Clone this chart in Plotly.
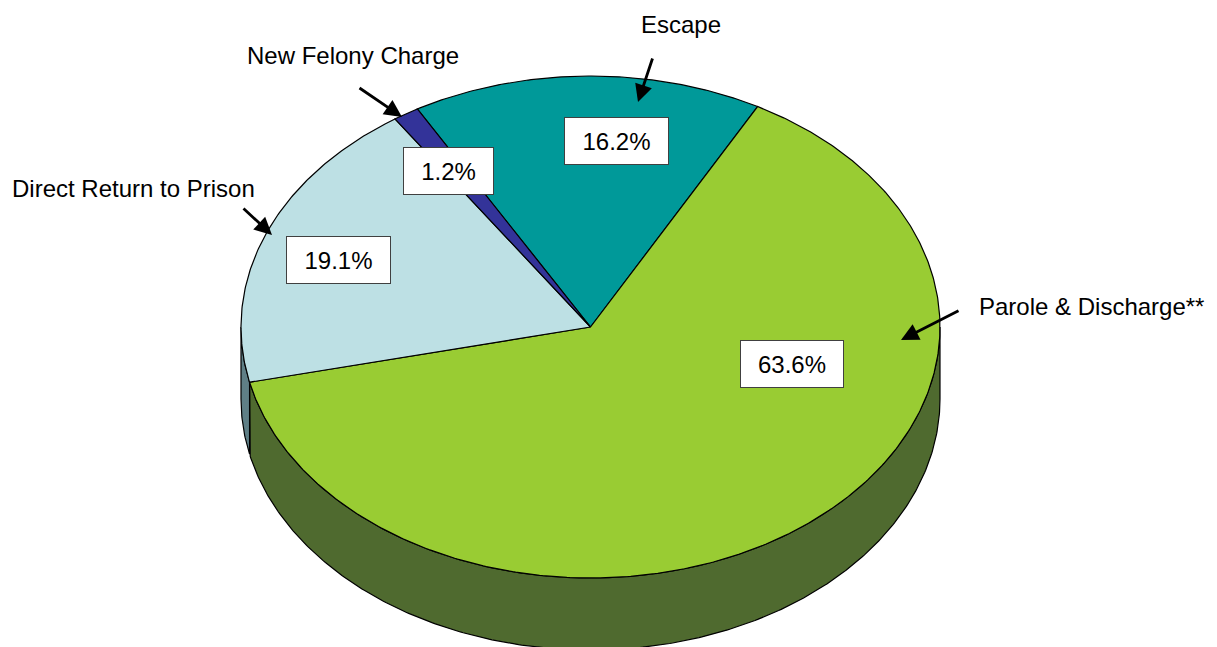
import numpy as np
import plotly.graph_objects as go

# ---- data ----
categories = ["Escape", "Parole & Discharge**", "Direct Return to Prison", "New Felony Charge"]
values = [16.2, 63.6, 19.1, 1.2]

# ---- styles ----
top_colors = ["#009999", "#99CC33", "#BDE0E4", "#333399"]
side_colors = ["#005F5F", "#4F6A2F", "#5F7F86", "#1F1F5C"]
FONT = "Arial, 'Liberation Sans', sans-serif"

# ---- geometry (plot units == pixels) ----
W, H = 1217, 647
CX, CY = 590.5, 327.0
RX, RY = 349.5, 251.0
DEPTH = 72.0
START = -29.7  # degrees clockwise from 12 o'clock where first slice begins

# label layout (positions / sizes)
box_layout = {
    "Escape": (616.5, 141.0, 105),
    "Parole & Discharge**": (792.0, 364.0, 104),
    "Direct Return to Prison": (338.5, 260.0, 105),
    "New Felony Charge": (448.5, 170.5, 91),
}
name_layout = {
    "Escape": (681.0, 24.0),
    "Parole & Discharge**": (1091.5, 306.0),
    "Direct Return to Prison": (133.5, 188.0),
    "New Felony Charge": (352.5, 55.0),
}
arrow_layout = {
    "Escape": ((653, 57), (638, 102)),
    "Parole & Discharge**": ((960, 310), (901, 340)),
    "Direct Return to Prison": ((242, 207), (272, 235)),
    "New Felony Charge": ((358, 87), (402, 117)),
}


def arc(a, b, dz=0.0, n=None):
    if n is None:
        n = max(2, int(abs(b - a) * 2) + 2)
    t = np.radians(np.linspace(a, b, n))
    return CX + RX * np.sin(t), CY - RY * np.cos(t) + dz


total = float(sum(values))
angles = []
cur = START
for v in values:
    span = v / total * 360.0
    angles.append((cur, cur + span))
    cur += span

fig = go.Figure()

# side faces (front half only: 90..270 deg)
for (a, b), col in zip(angles, side_colors):
    for off in (-360.0, 0.0, 360.0):
        lo = max(a + off, 90.0)
        hi = min(b + off, 270.0)
        if hi > lo:
            xt, yt = arc(lo, hi)
            xb, yb = arc(hi, lo, DEPTH)
            xs = np.concatenate([xt, xb, xt[:1]])
            ys = np.concatenate([yt, yb, yt[:1]])
            fig.add_trace(go.Scatter(x=xs, y=ys, mode="lines", fill="toself",
                                     fillcolor=col, line=dict(color="black", width=1.2),
                                     hoverinfo="skip", showlegend=False))

# top faces
for (a, b), col in zip(angles, top_colors):
    xa, ya = arc(a, b)
    xs = np.concatenate([[CX], xa, [CX]])
    ys = np.concatenate([[CY], ya, [CY]])
    fig.add_trace(go.Scatter(x=xs, y=ys, mode="lines", fill="toself",
                             fillcolor=col, line=dict(color="black", width=1.2),
                             hoverinfo="skip", showlegend=False))

annotations = []
for cat, v in zip(categories, values):
    bx, by, bw = box_layout[cat]
    annotations.append(dict(
        x=bx, y=by, xref="x", yref="y", text=f"{v:.1f}%", showarrow=False,
        font=dict(family=FONT, size=24, color="black"),
        bgcolor="white", bordercolor="#404040", borderwidth=1, borderpad=0,
        width=bw - 2, height=46, xanchor="center", yanchor="middle", align="center",
        valign="middle"))
    nx, ny = name_layout[cat]
    annotations.append(dict(
        x=nx, y=ny, xref="x", yref="y", text=cat, showarrow=False,
        font=dict(family=FONT, size=24, color="black"),
        xanchor="center", yanchor="middle"))
    (tx, ty), (hx, hy) = arrow_layout[cat]
    annotations.append(dict(
        x=hx, y=hy, ax=tx, ay=ty, xref="x", yref="y", axref="x", ayref="y",
        text="", showarrow=True, arrowhead=2, arrowsize=1.25, arrowwidth=2.8,
        arrowcolor="black", standoff=0, startstandoff=0))

fig.update_layout(
    width=W, height=H,
    margin=dict(l=0, r=0, t=0, b=0),
    paper_bgcolor="white", plot_bgcolor="white",
    xaxis=dict(range=[0, W], visible=False, fixedrange=True),
    yaxis=dict(range=[H, 0], visible=False, fixedrange=True),
    annotations=annotations,
    showlegend=False,
)

fig.write_html("out.html", config={"displayModeBar": False},
               post_script="document.body.style.margin='0px';document.body.style.overflow='hidden';")
